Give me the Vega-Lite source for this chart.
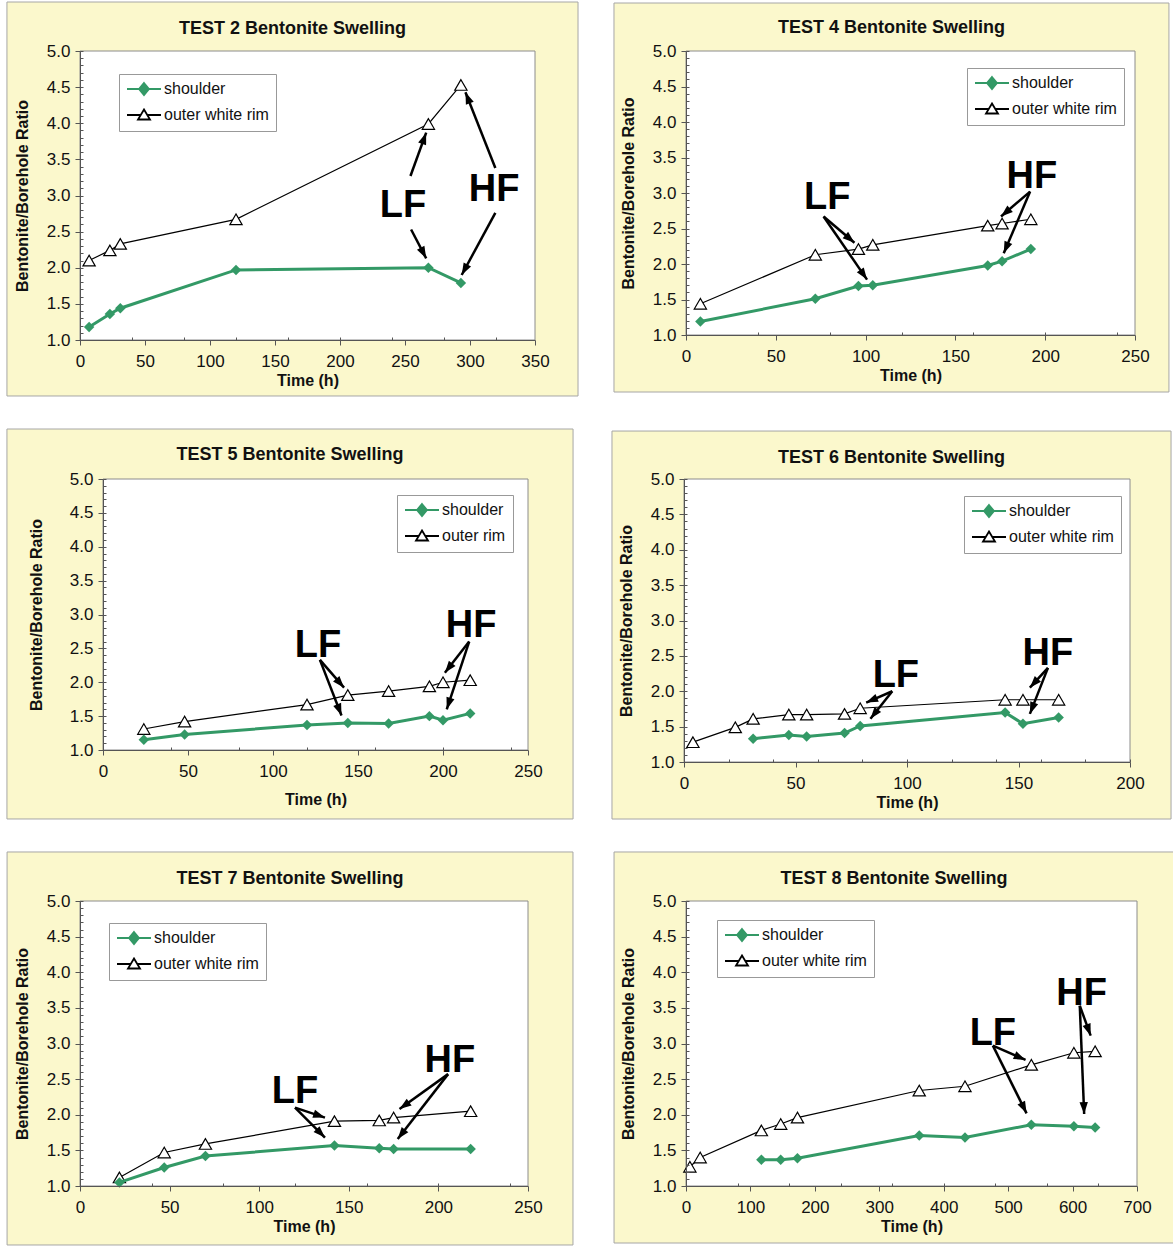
{
"$schema":"https://vega.github.io/schema/vega-lite/v6.json",
"background":"white",
"padding":{"left":0,"top":1,"right":0,"bottom":0},
"datasets":{
"series":[
{"test":"2","s":"shoulder","t":7,"r":1.18},{"test":"2","s":"shoulder","t":23,"r":1.36},{"test":"2","s":"shoulder","t":31,"r":1.44},{"test":"2","s":"shoulder","t":120,"r":1.97},{"test":"2","s":"shoulder","t":268,"r":2.0},{"test":"2","s":"shoulder","t":293,"r":1.79},
{"test":"2","s":"rim","t":7,"r":2.1},{"test":"2","s":"rim","t":23,"r":2.24},{"test":"2","s":"rim","t":31,"r":2.33},{"test":"2","s":"rim","t":120,"r":2.67},{"test":"2","s":"rim","t":268,"r":3.99},{"test":"2","s":"rim","t":293,"r":4.53},
{"test":"4","s":"shoulder","t":8,"r":1.19},{"test":"4","s":"shoulder","t":72,"r":1.51},{"test":"4","s":"shoulder","t":96,"r":1.69},{"test":"4","s":"shoulder","t":104,"r":1.7},{"test":"4","s":"shoulder","t":168,"r":1.98},{"test":"4","s":"shoulder","t":176,"r":2.04},{"test":"4","s":"shoulder","t":192,"r":2.21},
{"test":"4","s":"rim","t":8,"r":1.44},{"test":"4","s":"rim","t":72,"r":2.13},{"test":"4","s":"rim","t":96,"r":2.21},{"test":"4","s":"rim","t":104,"r":2.27},{"test":"4","s":"rim","t":168,"r":2.54},{"test":"4","s":"rim","t":176,"r":2.57},{"test":"4","s":"rim","t":192,"r":2.63},
{"test":"5","s":"shoulder","t":24,"r":1.15},{"test":"5","s":"shoulder","t":48,"r":1.23},{"test":"5","s":"shoulder","t":120,"r":1.37},{"test":"5","s":"shoulder","t":144,"r":1.4},{"test":"5","s":"shoulder","t":168,"r":1.39},{"test":"5","s":"shoulder","t":192,"r":1.5},{"test":"5","s":"shoulder","t":200,"r":1.44},{"test":"5","s":"shoulder","t":216,"r":1.54},
{"test":"5","s":"rim","t":24,"r":1.31},{"test":"5","s":"rim","t":48,"r":1.42},{"test":"5","s":"rim","t":120,"r":1.67},{"test":"5","s":"rim","t":144,"r":1.81},{"test":"5","s":"rim","t":168,"r":1.87},{"test":"5","s":"rim","t":192,"r":1.94},{"test":"5","s":"rim","t":200,"r":2.0},{"test":"5","s":"rim","t":216,"r":2.03},
{"test":"6","s":"shoulder","t":31,"r":1.33},{"test":"6","s":"shoulder","t":47,"r":1.38},{"test":"6","s":"shoulder","t":55,"r":1.36},{"test":"6","s":"shoulder","t":72,"r":1.41},{"test":"6","s":"shoulder","t":79,"r":1.51},{"test":"6","s":"shoulder","t":144,"r":1.7},{"test":"6","s":"shoulder","t":152,"r":1.54},{"test":"6","s":"shoulder","t":168,"r":1.63},
{"test":"6","s":"rim","t":4,"r":1.28},{"test":"6","s":"rim","t":23,"r":1.49},{"test":"6","s":"rim","t":31,"r":1.61},{"test":"6","s":"rim","t":47,"r":1.67},{"test":"6","s":"rim","t":55,"r":1.67},{"test":"6","s":"rim","t":72,"r":1.68},{"test":"6","s":"rim","t":79,"r":1.76},{"test":"6","s":"rim","t":144,"r":1.88},{"test":"6","s":"rim","t":152,"r":1.88},{"test":"6","s":"rim","t":168,"r":1.88},
{"test":"7","s":"shoulder","t":22,"r":1.05},{"test":"7","s":"shoulder","t":47,"r":1.26},{"test":"7","s":"shoulder","t":70,"r":1.42},{"test":"7","s":"shoulder","t":142,"r":1.57},{"test":"7","s":"shoulder","t":167,"r":1.53},{"test":"7","s":"shoulder","t":175,"r":1.52},{"test":"7","s":"shoulder","t":218,"r":1.52},
{"test":"7","s":"rim","t":22,"r":1.12},{"test":"7","s":"rim","t":47,"r":1.47},{"test":"7","s":"rim","t":70,"r":1.59},{"test":"7","s":"rim","t":142,"r":1.91},{"test":"7","s":"rim","t":167,"r":1.92},{"test":"7","s":"rim","t":175,"r":1.96},{"test":"7","s":"rim","t":218,"r":2.05},
{"test":"8","s":"shoulder","t":117,"r":1.37},{"test":"8","s":"shoulder","t":147,"r":1.37},{"test":"8","s":"shoulder","t":173,"r":1.39},{"test":"8","s":"shoulder","t":362,"r":1.71},{"test":"8","s":"shoulder","t":433,"r":1.68},{"test":"8","s":"shoulder","t":536,"r":1.86},{"test":"8","s":"shoulder","t":602,"r":1.84},{"test":"8","s":"shoulder","t":635,"r":1.82},
{"test":"8","s":"rim","t":6,"r":1.27},{"test":"8","s":"rim","t":22,"r":1.4},{"test":"8","s":"rim","t":117,"r":1.78},{"test":"8","s":"rim","t":147,"r":1.87},{"test":"8","s":"rim","t":173,"r":1.96},{"test":"8","s":"rim","t":362,"r":2.34},{"test":"8","s":"rim","t":433,"r":2.4},{"test":"8","s":"rim","t":536,"r":2.7},{"test":"8","s":"rim","t":602,"r":2.87},{"test":"8","s":"rim","t":635,"r":2.89}
],
"arrows":[
{"test":"2","x":254.2,"y":3.27,"x2":266.3,"y2":3.87},{"test":"2","x":254.7,"y":2.53,"x2":266.3,"y2":2.13},{"test":"2","x":319.5,"y":3.38,"x2":296.5,"y2":4.43},{"test":"2","x":319.5,"y":2.76,"x2":293.6,"y2":1.9},
{"test":"4","x":76.6,"y":2.67,"x2":93.8,"y2":2.3},{"test":"4","x":76.6,"y":2.67,"x2":100.8,"y2":1.78},{"test":"4","x":191.6,"y":3.02,"x2":175.4,"y2":2.67},{"test":"4","x":191.6,"y":3.02,"x2":176.9,"y2":2.15},
{"test":"5","x":127.6,"y":2.33,"x2":141.8,"y2":1.92},{"test":"5","x":127.6,"y":2.33,"x2":140.3,"y2":1.51},{"test":"5","x":215.4,"y":2.6,"x2":201.1,"y2":2.14},{"test":"5","x":215.4,"y":2.6,"x2":202.2,"y2":1.6},
{"test":"6","x":93.4,"y":2.0,"x2":81.7,"y2":1.84},{"test":"6","x":93.4,"y":2.0,"x2":83.6,"y2":1.61},{"test":"6","x":163.2,"y":2.33,"x2":155.1,"y2":2.05},{"test":"6","x":163.2,"y":2.33,"x2":155.1,"y2":1.68},
{"test":"7","x":120,"y":2.1,"x2":136.7,"y2":1.96},{"test":"7","x":120,"y":2.1,"x2":136.7,"y2":1.68},{"test":"7","x":205.4,"y":2.57,"x2":178.3,"y2":2.08},{"test":"7","x":205.4,"y":2.57,"x2":177.3,"y2":1.66},
{"test":"8","x":476.3,"y":2.97,"x2":527,"y2":2.77},{"test":"8","x":476.3,"y":2.97,"x2":528.6,"y2":2.02},{"test":"8","x":611.2,"y":3.53,"x2":628.1,"y2":3.11},{"test":"8","x":611.2,"y":3.53,"x2":618,"y2":2.01}
],
"labels":[
{"test":"2","txt":"LF","x":248.5,"y":2.86},{"test":"2","txt":"HF","x":318.5,"y":3.07},
{"test":"4","txt":"LF","x":78.6,"y":2.93},{"test":"4","txt":"HF","x":192.6,"y":3.23},
{"test":"5","txt":"LF","x":126.5,"y":2.54},{"test":"5","txt":"HF","x":216.5,"y":2.83},
{"test":"6","txt":"LF","x":95.0,"y":2.22},{"test":"6","txt":"HF","x":163.2,"y":2.53},
{"test":"7","txt":"LF","x":120,"y":2.32},{"test":"7","txt":"HF","x":206.4,"y":2.76},
{"test":"8","txt":"LF","x":476.3,"y":3.13},{"test":"8","txt":"HF","x":614,"y":3.69}
]
},
"config":{
"view":{"stroke":null},
"font":"Liberation Sans",
"title":{"font":"Liberation Sans","fontSize":18,"fontWeight":"bold","color":"#111111","anchor":"middle","frame":"bounds","baseline":"bottom"},
"axis":{"labelFont":"Liberation Sans","labelFontSize":17,"labelColor":"#111111","titleFont":"Liberation Sans","titleFontSize":16,"titleFontWeight":"bold","titleColor":"#111111","tickColor":"#555555","tickSize":5,"tickWidth":1,"domainColor":"#555555","grid":false,"labelFlush":false,"labelOverlap":false},
"axisX":{"labelPadding":8,"titlePadding":3},
"axisY":{"labelPadding":5,"titlePadding":16},
"legend":{"orient":"none","padding":7,"rowPadding":6,"labelFont":"Liberation Sans","labelFontSize":16,"labelColor":"#111111","symbolSize":144,"symbolStrokeWidth":1.8,"symbolOffset":10,"labelOffset":12,"fillColor":"white","strokeColor":"#999999"}
},
"spacing":31,
"resolve":{"scale":{"shape":"independent","fill":"independent","stroke":"independent"},"legend":{"shape":"independent","fill":"independent","stroke":"independent"}},
"vconcat":[
{"spacing":5,
"resolve":{"scale":{"shape":"independent","fill":"independent","stroke":"independent"},"legend":{"shape":"independent","fill":"independent","stroke":"independent"}},
"hconcat":[
{"width":1,"height":1,"data":{"values":[]},"mark":"point"},
{"spacing":34,
"resolve":{"scale":{"shape":"independent","fill":"independent","stroke":"independent"},"legend":{"shape":"independent","fill":"independent","stroke":"independent"}},
"hconcat":[
{"width":455,"height":289,
"title":{"text":"TEST 2  Bentonite Swelling","offset":-36},
"resolve":{"scale":{"x":"independent","y":"independent"},"axis":{"x":"independent","y":"independent"}},
"layer":[
{"layer":[
{"data":{"values":[{}]},"mark":{"type":"rect","fill":"#FBF8CC","stroke":"#A6A6A6","strokeWidth":1,"clip":false},"encoding":{"x":{"datum":-56.2,"type":"quantitative","scale":{"domain":[0,350],"nice":false,"zero":false}},"x2":{"datum":383.1},"y":{"datum":0.225,"type":"quantitative","scale":{"domain":[1,5],"nice":false,"zero":false}},"y2":{"datum":5.678}}},
{"data":{"values":[{}]},"mark":{"type":"rect","fill":"white","stroke":"#8C8C8C","strokeWidth":1},"encoding":{"x":{"datum":0,"type":"quantitative"},"x2":{"datum":350},"y":{"datum":1,"type":"quantitative"},"y2":{"datum":5}}},
{"data":{"name":"series"},"transform":[{"filter":"false"}],"mark":{"type":"point"},"encoding":{"x":{"field":"t","type":"quantitative","axis":{"orient":"bottom","title":null,"labels":false,"domain":false,"tickSize":-3,"zindex":1,"values":[0,10,20,30,40,50,60,70,80,90,100,110,120,130,140,150,160,170,180,190,200,210,220,230,240,250,260,270,280,290,300,310,320,330,340,350]}},"y":{"field":"r","type":"quantitative","axis":{"orient":"left","title":null,"labels":false,"domain":false,"tickSize":-3,"zindex":1,"tickCount":40}}}}
]},
{"layer":[
{"data":{"name":"series"},"transform":[{"filter":"datum.test=='2'&&datum.s=='rim'"}],"mark":{"type":"line","color":"black","strokeWidth":1.2},"encoding":{"x":{"field":"t","type":"quantitative","scale":{"domain":[0,350],"nice":false,"zero":false},"axis":{"orient":"bottom","title":"Time (h)","zindex":2,"labelOverlap":false,"values":[0,50,100,150,200,250,300,350]}},"y":{"field":"r","type":"quantitative","scale":{"domain":[1,5],"nice":false,"zero":false},"axis":{"orient":"left","title":"Bentonite/Borehole Ratio","zindex":2,"labelOverlap":false,"tickCount":8,"format":".1f"}}}},
{"data":{"name":"series"},"transform":[{"filter":"datum.test=='2'&&datum.s=='rim'"}],"mark":{"type":"point","shape":"triangle-up","size":150,"fill":"white","stroke":"black","strokeWidth":1.2,"opacity":1},"encoding":{"x":{"field":"t","type":"quantitative"},"y":{"field":"r","type":"quantitative"}}},
{"data":{"name":"series"},"transform":[{"filter":"datum.test=='2'&&datum.s=='shoulder'"}],"mark":{"type":"line","color":"#339966","strokeWidth":3},"encoding":{"x":{"field":"t","type":"quantitative"},"y":{"field":"r","type":"quantitative"}}},
{"data":{"name":"series"},"transform":[{"filter":"datum.test=='2'&&datum.s=='shoulder'"}],"mark":{"type":"point","shape":"diamond","size":110,"filled":true,"color":"#339966","opacity":1},"encoding":{"x":{"field":"t","type":"quantitative"},"y":{"field":"r","type":"quantitative"}}},
{"data":{"name":"arrows"},"transform":[{"filter":"datum.test=='2'"}],"mark":{"type":"rule","color":"black","strokeWidth":2.5},"encoding":{"x":{"field":"x","type":"quantitative"},"y":{"field":"y","type":"quantitative"},"x2":{"field":"x2"},"y2":{"field":"y2"}}},
{"data":{"name":"arrows"},"transform":[{"filter":"datum.test=='2'"},{"calculate":"atan2((datum.x2-datum.x)*1.3,(datum.y2-datum.y)*72.25)*180/PI","as":"ang"}],"mark":{"type":"point","shape":"M0,0L-0.6,1.7L0.6,1.7Z","size":196,"filled":true,"color":"black","opacity":1,"strokeWidth":0},"encoding":{"x":{"field":"x2","type":"quantitative"},"y":{"field":"y2","type":"quantitative"},"angle":{"field":"ang","type":"quantitative","scale":null}}},
{"data":{"name":"labels"},"transform":[{"filter":"datum.test=='2'"}],"mark":{"type":"text","fontSize":38,"fontWeight":"bold","color":"black","baseline":"middle","align":"center"},"encoding":{"x":{"field":"x","type":"quantitative"},"y":{"field":"y","type":"quantitative"},"text":{"field":"txt"}}},
{"data":{"name":"series"},"transform":[{"filter":"false"}],"mark":{"type":"point","opacity":1,"strokeWidth":1.8},"encoding":{
"shape":{"field":"lab","type":"nominal","scale":{"domain":["shoulder","outer white rim"],"range":["M-2.83,0H2.83M0,-1L0.83,0L0,1L-0.83,0Z","M-2.83,0H-0.55M0.55,0H2.83M0,-0.92L1,0.75L-1,0.75Z"]},"legend":{"title":null,"legendX":39,"legendY":23}},
"fill":{"field":"lab","type":"nominal","scale":{"domain":["shoulder","outer white rim"],"range":["#339966","white"]},"legend":{"title":null,"legendX":39,"legendY":23}},
"stroke":{"field":"lab","type":"nominal","scale":{"domain":["shoulder","outer white rim"],"range":["#339966","black"]},"legend":{"title":null,"legendX":39,"legendY":23}}}}
]}
]},
{"width":449,"height":284,
"title":{"text":"TEST 4  Bentonite Swelling","offset":-34.7},
"resolve":{"scale":{"x":"independent","y":"independent"},"axis":{"x":"independent","y":"independent"}},
"layer":[
{"layer":[
{"data":{"values":[{}]},"mark":{"type":"rect","fill":"#FBF8CC","stroke":"#A6A6A6","strokeWidth":1,"clip":false},"encoding":{"x":{"datum":-40.1,"type":"quantitative","scale":{"domain":[0,250],"nice":false,"zero":false}},"x2":{"datum":268.9},"y":{"datum":0.197,"type":"quantitative","scale":{"domain":[1,5],"nice":false,"zero":false}},"y2":{"datum":5.676}}},
{"data":{"values":[{}]},"mark":{"type":"rect","fill":"white","stroke":"#8C8C8C","strokeWidth":1},"encoding":{"x":{"datum":0,"type":"quantitative"},"x2":{"datum":250},"y":{"datum":1,"type":"quantitative"},"y2":{"datum":5}}},
{"data":{"name":"series"},"transform":[{"filter":"false"}],"mark":{"type":"point"},"encoding":{"x":{"field":"t","type":"quantitative","axis":{"orient":"bottom","title":null,"labels":false,"domain":false,"tickSize":-3,"zindex":1,"values":[0,10,20,30,40,50,60,70,80,90,100,110,120,130,140,150,160,170,180,190,200,210,220,230,240,250]}},"y":{"field":"r","type":"quantitative","axis":{"orient":"left","title":null,"labels":false,"domain":false,"tickSize":-3,"zindex":1,"tickCount":40}}}}
]},
{"layer":[
{"data":{"name":"series"},"transform":[{"filter":"datum.test=='4'&&datum.s=='rim'"}],"mark":{"type":"line","color":"black","strokeWidth":1.2},"encoding":{"x":{"field":"t","type":"quantitative","scale":{"domain":[0,250],"nice":false,"zero":false},"axis":{"orient":"bottom","title":"Time (h)","zindex":2,"labelOverlap":false,"values":[0,50,100,150,200,250]}},"y":{"field":"r","type":"quantitative","scale":{"domain":[1,5],"nice":false,"zero":false},"axis":{"orient":"left","title":"Bentonite/Borehole Ratio","zindex":2,"labelOverlap":false,"tickCount":8,"format":".1f"}}}},
{"data":{"name":"series"},"transform":[{"filter":"datum.test=='4'&&datum.s=='rim'"}],"mark":{"type":"point","shape":"triangle-up","size":150,"fill":"white","stroke":"black","strokeWidth":1.2,"opacity":1},"encoding":{"x":{"field":"t","type":"quantitative"},"y":{"field":"r","type":"quantitative"}}},
{"data":{"name":"series"},"transform":[{"filter":"datum.test=='4'&&datum.s=='shoulder'"}],"mark":{"type":"line","color":"#339966","strokeWidth":3},"encoding":{"x":{"field":"t","type":"quantitative"},"y":{"field":"r","type":"quantitative"}}},
{"data":{"name":"series"},"transform":[{"filter":"datum.test=='4'&&datum.s=='shoulder'"}],"mark":{"type":"point","shape":"diamond","size":110,"filled":true,"color":"#339966","opacity":1},"encoding":{"x":{"field":"t","type":"quantitative"},"y":{"field":"r","type":"quantitative"}}},
{"data":{"name":"arrows"},"transform":[{"filter":"datum.test=='4'"}],"mark":{"type":"rule","color":"black","strokeWidth":2.5},"encoding":{"x":{"field":"x","type":"quantitative"},"y":{"field":"y","type":"quantitative"},"x2":{"field":"x2"},"y2":{"field":"y2"}}},
{"data":{"name":"arrows"},"transform":[{"filter":"datum.test=='4'"},{"calculate":"atan2((datum.x2-datum.x)*1.796,(datum.y2-datum.y)*71)*180/PI","as":"ang"}],"mark":{"type":"point","shape":"M0,0L-0.6,1.7L0.6,1.7Z","size":196,"filled":true,"color":"black","opacity":1,"strokeWidth":0},"encoding":{"x":{"field":"x2","type":"quantitative"},"y":{"field":"y2","type":"quantitative"},"angle":{"field":"ang","type":"quantitative","scale":null}}},
{"data":{"name":"labels"},"transform":[{"filter":"datum.test=='4'"}],"mark":{"type":"text","fontSize":38,"fontWeight":"bold","color":"black","baseline":"middle","align":"center"},"encoding":{"x":{"field":"x","type":"quantitative"},"y":{"field":"y","type":"quantitative"},"text":{"field":"txt"}}},
{"data":{"name":"series"},"transform":[{"filter":"false"}],"mark":{"type":"point","opacity":1,"strokeWidth":1.8},"encoding":{
"shape":{"field":"lab","type":"nominal","scale":{"domain":["shoulder","outer white rim"],"range":["M-2.83,0H2.83M0,-1L0.83,0L0,1L-0.83,0Z","M-2.83,0H-0.55M0.55,0H2.83M0,-0.92L1,0.75L-1,0.75Z"]},"legend":{"title":null,"legendX":281,"legendY":17}},
"fill":{"field":"lab","type":"nominal","scale":{"domain":["shoulder","outer white rim"],"range":["#339966","white"]},"legend":{"title":null,"legendX":281,"legendY":17}},
"stroke":{"field":"lab","type":"nominal","scale":{"domain":["shoulder","outer white rim"],"range":["#339966","black"]},"legend":{"title":null,"legendX":281,"legendY":17}}}}
]}
]}
]}
]},
{"spacing":5,
"resolve":{"scale":{"shape":"independent","fill":"independent","stroke":"independent"},"legend":{"shape":"independent","fill":"independent","stroke":"independent"}},
"hconcat":[
{"width":1,"height":1,"data":{"values":[]},"mark":"point"},
{"spacing":37,
"resolve":{"scale":{"shape":"independent","fill":"independent","stroke":"independent"},"legend":{"shape":"independent","fill":"independent","stroke":"independent"}},
"hconcat":[
{"width":425,"height":271,
"title":{"text":"TEST 5  Bentonite Swelling","offset":-35.3},
"resolve":{"scale":{"x":"independent","y":"independent"},"axis":{"x":"independent","y":"independent"}},
"layer":[
{"layer":[
{"data":{"values":[{}]},"mark":{"type":"rect","fill":"#FBF8CC","stroke":"#A6A6A6","strokeWidth":1,"clip":false},"encoding":{"x":{"datum":-56.5,"type":"quantitative","scale":{"domain":[0,250],"nice":false,"zero":false}},"x2":{"datum":276.5},"y":{"datum":-0.018,"type":"quantitative","scale":{"domain":[1,5],"nice":false,"zero":false}},"y2":{"datum":5.738}}},
{"data":{"values":[{}]},"mark":{"type":"rect","fill":"white","stroke":"#8C8C8C","strokeWidth":1},"encoding":{"x":{"datum":0,"type":"quantitative"},"x2":{"datum":250},"y":{"datum":1,"type":"quantitative"},"y2":{"datum":5}}},
{"data":{"name":"series"},"transform":[{"filter":"false"}],"mark":{"type":"point"},"encoding":{"x":{"field":"t","type":"quantitative","axis":{"orient":"bottom","title":null,"labels":false,"domain":false,"tickSize":-3,"zindex":1,"values":[0,10,20,30,40,50,60,70,80,90,100,110,120,130,140,150,160,170,180,190,200,210,220,230,240,250]}},"y":{"field":"r","type":"quantitative","axis":{"orient":"left","title":null,"labels":false,"domain":false,"tickSize":-3,"zindex":1,"tickCount":40}}}}
]},
{"layer":[
{"data":{"name":"series"},"transform":[{"filter":"datum.test=='5'&&datum.s=='rim'"}],"mark":{"type":"line","color":"black","strokeWidth":1.2},"encoding":{"x":{"field":"t","type":"quantitative","scale":{"domain":[0,250],"nice":false,"zero":false},"axis":{"orient":"bottom","title":"Time (h)","zindex":2,"labelOverlap":false,"values":[0,50,100,150,200,250],"titlePadding":12}},"y":{"field":"r","type":"quantitative","scale":{"domain":[1,5],"nice":false,"zero":false},"axis":{"orient":"left","title":"Bentonite/Borehole Ratio","zindex":2,"labelOverlap":false,"tickCount":8,"format":".1f","titlePadding":25}}}},
{"data":{"name":"series"},"transform":[{"filter":"datum.test=='5'&&datum.s=='rim'"}],"mark":{"type":"point","shape":"triangle-up","size":150,"fill":"white","stroke":"black","strokeWidth":1.2,"opacity":1},"encoding":{"x":{"field":"t","type":"quantitative"},"y":{"field":"r","type":"quantitative"}}},
{"data":{"name":"series"},"transform":[{"filter":"datum.test=='5'&&datum.s=='shoulder'"}],"mark":{"type":"line","color":"#339966","strokeWidth":3},"encoding":{"x":{"field":"t","type":"quantitative"},"y":{"field":"r","type":"quantitative"}}},
{"data":{"name":"series"},"transform":[{"filter":"datum.test=='5'&&datum.s=='shoulder'"}],"mark":{"type":"point","shape":"diamond","size":110,"filled":true,"color":"#339966","opacity":1},"encoding":{"x":{"field":"t","type":"quantitative"},"y":{"field":"r","type":"quantitative"}}},
{"data":{"name":"arrows"},"transform":[{"filter":"datum.test=='5'"}],"mark":{"type":"rule","color":"black","strokeWidth":2.5},"encoding":{"x":{"field":"x","type":"quantitative"},"y":{"field":"y","type":"quantitative"},"x2":{"field":"x2"},"y2":{"field":"y2"}}},
{"data":{"name":"arrows"},"transform":[{"filter":"datum.test=='5'"},{"calculate":"atan2((datum.x2-datum.x)*1.7,(datum.y2-datum.y)*67.75)*180/PI","as":"ang"}],"mark":{"type":"point","shape":"M0,0L-0.6,1.7L0.6,1.7Z","size":196,"filled":true,"color":"black","opacity":1,"strokeWidth":0},"encoding":{"x":{"field":"x2","type":"quantitative"},"y":{"field":"y2","type":"quantitative"},"angle":{"field":"ang","type":"quantitative","scale":null}}},
{"data":{"name":"labels"},"transform":[{"filter":"datum.test=='5'"}],"mark":{"type":"text","fontSize":38,"fontWeight":"bold","color":"black","baseline":"middle","align":"center"},"encoding":{"x":{"field":"x","type":"quantitative"},"y":{"field":"y","type":"quantitative"},"text":{"field":"txt"}}},
{"data":{"name":"series"},"transform":[{"filter":"false"}],"mark":{"type":"point","opacity":1,"strokeWidth":1.8},"encoding":{
"shape":{"field":"lab","type":"nominal","scale":{"domain":["shoulder","outer rim"],"range":["M-2.83,0H2.83M0,-1L0.83,0L0,1L-0.83,0Z","M-2.83,0H-0.55M0.55,0H2.83M0,-0.92L1,0.75L-1,0.75Z"]},"legend":{"title":null,"legendX":294,"legendY":16}},
"fill":{"field":"lab","type":"nominal","scale":{"domain":["shoulder","outer rim"],"range":["#339966","white"]},"legend":{"title":null,"legendX":294,"legendY":16}},
"stroke":{"field":"lab","type":"nominal","scale":{"domain":["shoulder","outer rim"],"range":["#339966","black"]},"legend":{"title":null,"legendX":294,"legendY":16}}}}
]}
]},
{"width":446,"height":283,
"title":{"text":"TEST 6  Bentonite Swelling","offset":-36.7},
"resolve":{"scale":{"x":"independent","y":"independent"},"axis":{"x":"independent","y":"independent"}},
"layer":[
{"layer":[
{"data":{"values":[{}]},"mark":{"type":"rect","fill":"#FBF8CC","stroke":"#A6A6A6","strokeWidth":1,"clip":false},"encoding":{"x":{"datum":-32.3,"type":"quantitative","scale":{"domain":[0,200],"nice":false,"zero":false}},"x2":{"datum":218.4},"y":{"datum":0.194,"type":"quantitative","scale":{"domain":[1,5],"nice":false,"zero":false}},"y2":{"datum":5.678}}},
{"data":{"values":[{}]},"mark":{"type":"rect","fill":"white","stroke":"#8C8C8C","strokeWidth":1},"encoding":{"x":{"datum":0,"type":"quantitative"},"x2":{"datum":200},"y":{"datum":1,"type":"quantitative"},"y2":{"datum":5}}},
{"data":{"name":"series"},"transform":[{"filter":"false"}],"mark":{"type":"point"},"encoding":{"x":{"field":"t","type":"quantitative","axis":{"orient":"bottom","title":null,"labels":false,"domain":false,"tickSize":-3,"zindex":1,"values":[0,10,20,30,40,50,60,70,80,90,100,110,120,130,140,150,160,170,180,190,200]}},"y":{"field":"r","type":"quantitative","axis":{"orient":"left","title":null,"labels":false,"domain":false,"tickSize":-3,"zindex":1,"tickCount":40}}}}
]},
{"layer":[
{"data":{"name":"series"},"transform":[{"filter":"datum.test=='6'&&datum.s=='rim'"}],"mark":{"type":"line","color":"black","strokeWidth":1.2},"encoding":{"x":{"field":"t","type":"quantitative","scale":{"domain":[0,200],"nice":false,"zero":false},"axis":{"orient":"bottom","title":"Time (h)","zindex":2,"labelOverlap":false,"values":[0,50,100,150,200]}},"y":{"field":"r","type":"quantitative","scale":{"domain":[1,5],"nice":false,"zero":false},"axis":{"orient":"left","title":"Bentonite/Borehole Ratio","zindex":2,"labelOverlap":false,"tickCount":8,"format":".1f"}}}},
{"data":{"name":"series"},"transform":[{"filter":"datum.test=='6'&&datum.s=='rim'"}],"mark":{"type":"point","shape":"triangle-up","size":150,"fill":"white","stroke":"black","strokeWidth":1.2,"opacity":1},"encoding":{"x":{"field":"t","type":"quantitative"},"y":{"field":"r","type":"quantitative"}}},
{"data":{"name":"series"},"transform":[{"filter":"datum.test=='6'&&datum.s=='shoulder'"}],"mark":{"type":"line","color":"#339966","strokeWidth":3},"encoding":{"x":{"field":"t","type":"quantitative"},"y":{"field":"r","type":"quantitative"}}},
{"data":{"name":"series"},"transform":[{"filter":"datum.test=='6'&&datum.s=='shoulder'"}],"mark":{"type":"point","shape":"diamond","size":110,"filled":true,"color":"#339966","opacity":1},"encoding":{"x":{"field":"t","type":"quantitative"},"y":{"field":"r","type":"quantitative"}}},
{"data":{"name":"arrows"},"transform":[{"filter":"datum.test=='6'"}],"mark":{"type":"rule","color":"black","strokeWidth":2.5},"encoding":{"x":{"field":"x","type":"quantitative"},"y":{"field":"y","type":"quantitative"},"x2":{"field":"x2"},"y2":{"field":"y2"}}},
{"data":{"name":"arrows"},"transform":[{"filter":"datum.test=='6'"},{"calculate":"atan2((datum.x2-datum.x)*2.23,(datum.y2-datum.y)*70.75)*180/PI","as":"ang"}],"mark":{"type":"point","shape":"M0,0L-0.6,1.7L0.6,1.7Z","size":196,"filled":true,"color":"black","opacity":1,"strokeWidth":0},"encoding":{"x":{"field":"x2","type":"quantitative"},"y":{"field":"y2","type":"quantitative"},"angle":{"field":"ang","type":"quantitative","scale":null}}},
{"data":{"name":"labels"},"transform":[{"filter":"datum.test=='6'"}],"mark":{"type":"text","fontSize":38,"fontWeight":"bold","color":"black","baseline":"middle","align":"center"},"encoding":{"x":{"field":"x","type":"quantitative"},"y":{"field":"y","type":"quantitative"},"text":{"field":"txt"}}},
{"data":{"name":"series"},"transform":[{"filter":"false"}],"mark":{"type":"point","opacity":1,"strokeWidth":1.8},"encoding":{
"shape":{"field":"lab","type":"nominal","scale":{"domain":["shoulder","outer white rim"],"range":["M-2.83,0H2.83M0,-1L0.83,0L0,1L-0.83,0Z","M-2.83,0H-0.55M0.55,0H2.83M0,-0.92L1,0.75L-1,0.75Z"]},"legend":{"title":null,"legendX":280,"legendY":17}},
"fill":{"field":"lab","type":"nominal","scale":{"domain":["shoulder","outer white rim"],"range":["#339966","white"]},"legend":{"title":null,"legendX":280,"legendY":17}},
"stroke":{"field":"lab","type":"nominal","scale":{"domain":["shoulder","outer white rim"],"range":["#339966","black"]},"legend":{"title":null,"legendX":280,"legendY":17}}}}
]}
]}
]}
]},
{"spacing":5,
"resolve":{"scale":{"shape":"independent","fill":"independent","stroke":"independent"},"legend":{"shape":"independent","fill":"independent","stroke":"independent"}},
"hconcat":[
{"width":1,"height":1,"data":{"values":[]},"mark":"point"},
{"spacing":39,
"resolve":{"scale":{"shape":"independent","fill":"independent","stroke":"independent"},"legend":{"shape":"independent","fill":"independent","stroke":"independent"}},
"hconcat":[
{"width":448,"height":285,
"title":{"text":"TEST 7  Bentonite Swelling","offset":-36.3},
"resolve":{"scale":{"x":"independent","y":"independent"},"axis":{"x":"independent","y":"independent"}},
"layer":[
{"layer":[
{"data":{"values":[{}]},"mark":{"type":"rect","fill":"#FBF8CC","stroke":"#A6A6A6","strokeWidth":1,"clip":false},"encoding":{"x":{"datum":-40.7,"type":"quantitative","scale":{"domain":[0,250],"nice":false,"zero":false}},"x2":{"datum":275.1},"y":{"datum":0.172,"type":"quantitative","scale":{"domain":[1,5],"nice":false,"zero":false}},"y2":{"datum":5.688}}},
{"data":{"values":[{}]},"mark":{"type":"rect","fill":"white","stroke":"#8C8C8C","strokeWidth":1},"encoding":{"x":{"datum":0,"type":"quantitative"},"x2":{"datum":250},"y":{"datum":1,"type":"quantitative"},"y2":{"datum":5}}},
{"data":{"name":"series"},"transform":[{"filter":"false"}],"mark":{"type":"point"},"encoding":{"x":{"field":"t","type":"quantitative","axis":{"orient":"bottom","title":null,"labels":false,"domain":false,"tickSize":-3,"zindex":1,"values":[0,10,20,30,40,50,60,70,80,90,100,110,120,130,140,150,160,170,180,190,200,210,220,230,240,250]}},"y":{"field":"r","type":"quantitative","axis":{"orient":"left","title":null,"labels":false,"domain":false,"tickSize":-3,"zindex":1,"tickCount":40}}}}
]},
{"layer":[
{"data":{"name":"series"},"transform":[{"filter":"datum.test=='7'&&datum.s=='rim'"}],"mark":{"type":"line","color":"black","strokeWidth":1.2},"encoding":{"x":{"field":"t","type":"quantitative","scale":{"domain":[0,250],"nice":false,"zero":false},"axis":{"orient":"bottom","title":"Time (h)","zindex":2,"labelOverlap":false,"values":[0,50,100,150,200,250]}},"y":{"field":"r","type":"quantitative","scale":{"domain":[1,5],"nice":false,"zero":false},"axis":{"orient":"left","title":"Bentonite/Borehole Ratio","zindex":2,"labelOverlap":false,"tickCount":8,"format":".1f"}}}},
{"data":{"name":"series"},"transform":[{"filter":"datum.test=='7'&&datum.s=='rim'"}],"mark":{"type":"point","shape":"triangle-up","size":150,"fill":"white","stroke":"black","strokeWidth":1.2,"opacity":1},"encoding":{"x":{"field":"t","type":"quantitative"},"y":{"field":"r","type":"quantitative"}}},
{"data":{"name":"series"},"transform":[{"filter":"datum.test=='7'&&datum.s=='shoulder'"}],"mark":{"type":"line","color":"#339966","strokeWidth":3},"encoding":{"x":{"field":"t","type":"quantitative"},"y":{"field":"r","type":"quantitative"}}},
{"data":{"name":"series"},"transform":[{"filter":"datum.test=='7'&&datum.s=='shoulder'"}],"mark":{"type":"point","shape":"diamond","size":110,"filled":true,"color":"#339966","opacity":1},"encoding":{"x":{"field":"t","type":"quantitative"},"y":{"field":"r","type":"quantitative"}}},
{"data":{"name":"arrows"},"transform":[{"filter":"datum.test=='7'"}],"mark":{"type":"rule","color":"black","strokeWidth":2.5},"encoding":{"x":{"field":"x","type":"quantitative"},"y":{"field":"y","type":"quantitative"},"x2":{"field":"x2"},"y2":{"field":"y2"}}},
{"data":{"name":"arrows"},"transform":[{"filter":"datum.test=='7'"},{"calculate":"atan2((datum.x2-datum.x)*1.792,(datum.y2-datum.y)*71.25)*180/PI","as":"ang"}],"mark":{"type":"point","shape":"M0,0L-0.6,1.7L0.6,1.7Z","size":196,"filled":true,"color":"black","opacity":1,"strokeWidth":0},"encoding":{"x":{"field":"x2","type":"quantitative"},"y":{"field":"y2","type":"quantitative"},"angle":{"field":"ang","type":"quantitative","scale":null}}},
{"data":{"name":"labels"},"transform":[{"filter":"datum.test=='7'"}],"mark":{"type":"text","fontSize":38,"fontWeight":"bold","color":"black","baseline":"middle","align":"center"},"encoding":{"x":{"field":"x","type":"quantitative"},"y":{"field":"y","type":"quantitative"},"text":{"field":"txt"}}},
{"data":{"name":"series"},"transform":[{"filter":"false"}],"mark":{"type":"point","opacity":1,"strokeWidth":1.8},"encoding":{
"shape":{"field":"lab","type":"nominal","scale":{"domain":["shoulder","outer white rim"],"range":["M-2.83,0H2.83M0,-1L0.83,0L0,1L-0.83,0Z","M-2.83,0H-0.55M0.55,0H2.83M0,-0.92L1,0.75L-1,0.75Z"]},"legend":{"title":null,"legendX":29,"legendY":22}},
"fill":{"field":"lab","type":"nominal","scale":{"domain":["shoulder","outer white rim"],"range":["#339966","white"]},"legend":{"title":null,"legendX":29,"legendY":22}},
"stroke":{"field":"lab","type":"nominal","scale":{"domain":["shoulder","outer white rim"],"range":["#339966","black"]},"legend":{"title":null,"legendX":29,"legendY":22}}}}
]}
]},
{"width":451,"height":285,
"title":{"text":"TEST 8  Bentonite Swelling","offset":-36.3},
"resolve":{"scale":{"x":"independent","y":"independent"},"axis":{"x":"independent","y":"independent"}},
"layer":[
{"layer":[
{"data":{"values":[{}]},"mark":{"type":"rect","fill":"#FBF8CC","stroke":"#A6A6A6","strokeWidth":1,"clip":false},"encoding":{"x":{"datum":-111.7,"type":"quantitative","scale":{"domain":[0,700],"nice":false,"zero":false}},"x2":{"datum":757.4},"y":{"datum":0.2,"type":"quantitative","scale":{"domain":[1,5],"nice":false,"zero":false}},"y2":{"datum":5.688}}},
{"data":{"values":[{}]},"mark":{"type":"rect","fill":"white","stroke":"#8C8C8C","strokeWidth":1},"encoding":{"x":{"datum":0,"type":"quantitative"},"x2":{"datum":700},"y":{"datum":1,"type":"quantitative"},"y2":{"datum":5}}},
{"data":{"name":"series"},"transform":[{"filter":"false"}],"mark":{"type":"point"},"encoding":{"x":{"field":"t","type":"quantitative","axis":{"orient":"bottom","title":null,"labels":false,"domain":false,"tickSize":-3,"zindex":1,"values":[0,20,40,60,80,100,120,140,160,180,200,220,240,260,280,300,320,340,360,380,400,420,440,460,480,500,520,540,560,580,600,620,640,660,680,700]}},"y":{"field":"r","type":"quantitative","axis":{"orient":"left","title":null,"labels":false,"domain":false,"tickSize":-3,"zindex":1,"tickCount":40}}}}
]},
{"layer":[
{"data":{"name":"series"},"transform":[{"filter":"datum.test=='8'&&datum.s=='rim'"}],"mark":{"type":"line","color":"black","strokeWidth":1.2},"encoding":{"x":{"field":"t","type":"quantitative","scale":{"domain":[0,700],"nice":false,"zero":false},"axis":{"orient":"bottom","title":"Time (h)","zindex":2,"labelOverlap":false,"values":[0,100,200,300,400,500,600,700]}},"y":{"field":"r","type":"quantitative","scale":{"domain":[1,5],"nice":false,"zero":false},"axis":{"orient":"left","title":"Bentonite/Borehole Ratio","zindex":2,"labelOverlap":false,"tickCount":8,"format":".1f"}}}},
{"data":{"name":"series"},"transform":[{"filter":"datum.test=='8'&&datum.s=='rim'"}],"mark":{"type":"point","shape":"triangle-up","size":150,"fill":"white","stroke":"black","strokeWidth":1.2,"opacity":1},"encoding":{"x":{"field":"t","type":"quantitative"},"y":{"field":"r","type":"quantitative"}}},
{"data":{"name":"series"},"transform":[{"filter":"datum.test=='8'&&datum.s=='shoulder'"}],"mark":{"type":"line","color":"#339966","strokeWidth":3},"encoding":{"x":{"field":"t","type":"quantitative"},"y":{"field":"r","type":"quantitative"}}},
{"data":{"name":"series"},"transform":[{"filter":"datum.test=='8'&&datum.s=='shoulder'"}],"mark":{"type":"point","shape":"diamond","size":110,"filled":true,"color":"#339966","opacity":1},"encoding":{"x":{"field":"t","type":"quantitative"},"y":{"field":"r","type":"quantitative"}}},
{"data":{"name":"arrows"},"transform":[{"filter":"datum.test=='8'"}],"mark":{"type":"rule","color":"black","strokeWidth":2.5},"encoding":{"x":{"field":"x","type":"quantitative"},"y":{"field":"y","type":"quantitative"},"x2":{"field":"x2"},"y2":{"field":"y2"}}},
{"data":{"name":"arrows"},"transform":[{"filter":"datum.test=='8'"},{"calculate":"atan2((datum.x2-datum.x)*0.6443,(datum.y2-datum.y)*71.25)*180/PI","as":"ang"}],"mark":{"type":"point","shape":"M0,0L-0.6,1.7L0.6,1.7Z","size":196,"filled":true,"color":"black","opacity":1,"strokeWidth":0},"encoding":{"x":{"field":"x2","type":"quantitative"},"y":{"field":"y2","type":"quantitative"},"angle":{"field":"ang","type":"quantitative","scale":null}}},
{"data":{"name":"labels"},"transform":[{"filter":"datum.test=='8'"}],"mark":{"type":"text","fontSize":38,"fontWeight":"bold","color":"black","baseline":"middle","align":"center"},"encoding":{"x":{"field":"x","type":"quantitative"},"y":{"field":"y","type":"quantitative"},"text":{"field":"txt"}}},
{"data":{"name":"series"},"transform":[{"filter":"false"}],"mark":{"type":"point","opacity":1,"strokeWidth":1.8},"encoding":{
"shape":{"field":"lab","type":"nominal","scale":{"domain":["shoulder","outer white rim"],"range":["M-2.83,0H2.83M0,-1L0.83,0L0,1L-0.83,0Z","M-2.83,0H-0.55M0.55,0H2.83M0,-0.92L1,0.75L-1,0.75Z"]},"legend":{"title":null,"legendX":31,"legendY":19}},
"fill":{"field":"lab","type":"nominal","scale":{"domain":["shoulder","outer white rim"],"range":["#339966","white"]},"legend":{"title":null,"legendX":31,"legendY":19}},
"stroke":{"field":"lab","type":"nominal","scale":{"domain":["shoulder","outer white rim"],"range":["#339966","black"]},"legend":{"title":null,"legendX":31,"legendY":19}}}}
]}
]}
]}
]}
]
}
